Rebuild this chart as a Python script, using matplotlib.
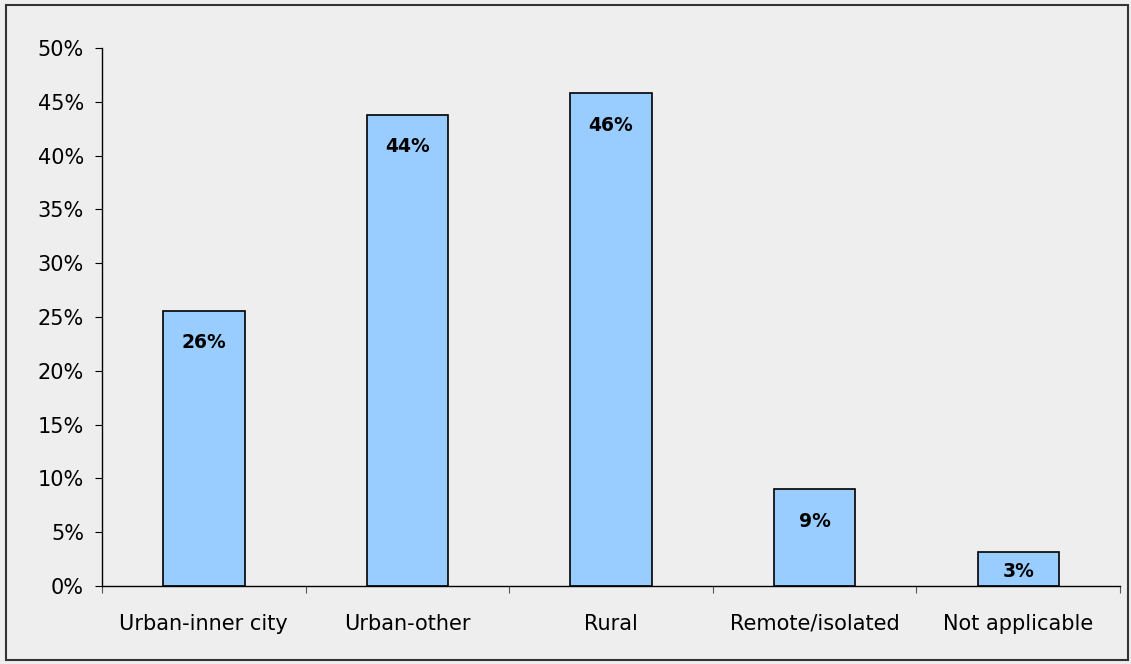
import numpy as np
import matplotlib.pyplot as plt
from matplotlib.patches import Rectangle

# data
categories = ["Urban-inner city", "Urban-other", "Rural", "Remote/isolated", "Not applicable"]
values = [25.6, 43.8, 45.8, 9.0, 3.2]
labels = ["26%", "44%", "46%", "9%", "3%"]

bg = "#eeeeee"
fig = plt.figure(figsize=(11.31, 6.64), dpi=100)
fig.patch.set_facecolor(bg)
ax = fig.add_axes([0.0902, 0.1175, 0.9001, 0.8102])
ax.set_facecolor(bg)

x = np.arange(len(categories))
ax.bar(x, values, width=0.4, color="#99ccff", edgecolor="black", linewidth=1.2, zorder=2)

for xi, v, lab in zip(x, values, labels):
    y = max(v - 3, v * 0.42)
    ax.text(xi, y, lab, ha="center", va="center", fontsize=13.5, fontweight="bold")

ax.set_xlim(-0.5, len(categories) - 0.5)
ax.set_ylim(0, 50)
ax.set_yticks(np.arange(0, 51, 5))
ax.set_yticklabels([f"{t}%" for t in range(0, 51, 5)], fontsize=15)

# category boundaries as ticks, names in the middle
ax.set_xticks(np.arange(-0.5, len(categories), 1))
ax.set_xticklabels([])
ax.set_xticks(x, minor=True)
ax.set_xticklabels(categories, minor=True, fontsize=15)
ax.tick_params(axis="x", which="minor", length=0, pad=20)
ax.tick_params(axis="x", which="major", length=5, direction="out", color="#555555")
ax.tick_params(axis="y", length=5, direction="out", pad=8)

for s in ["top", "right"]:
    ax.spines[s].set_visible(False)
ax.spines["left"].set_linewidth(1)
ax.spines["bottom"].set_linewidth(1)

# outer frame
fig.patches.append(Rectangle((0.005, 0.006), 0.992, 0.986, transform=fig.transFigure,
                             fill=False, edgecolor="#333333", linewidth=1.5))

fig.savefig("out.png", dpi=100, facecolor=bg)
